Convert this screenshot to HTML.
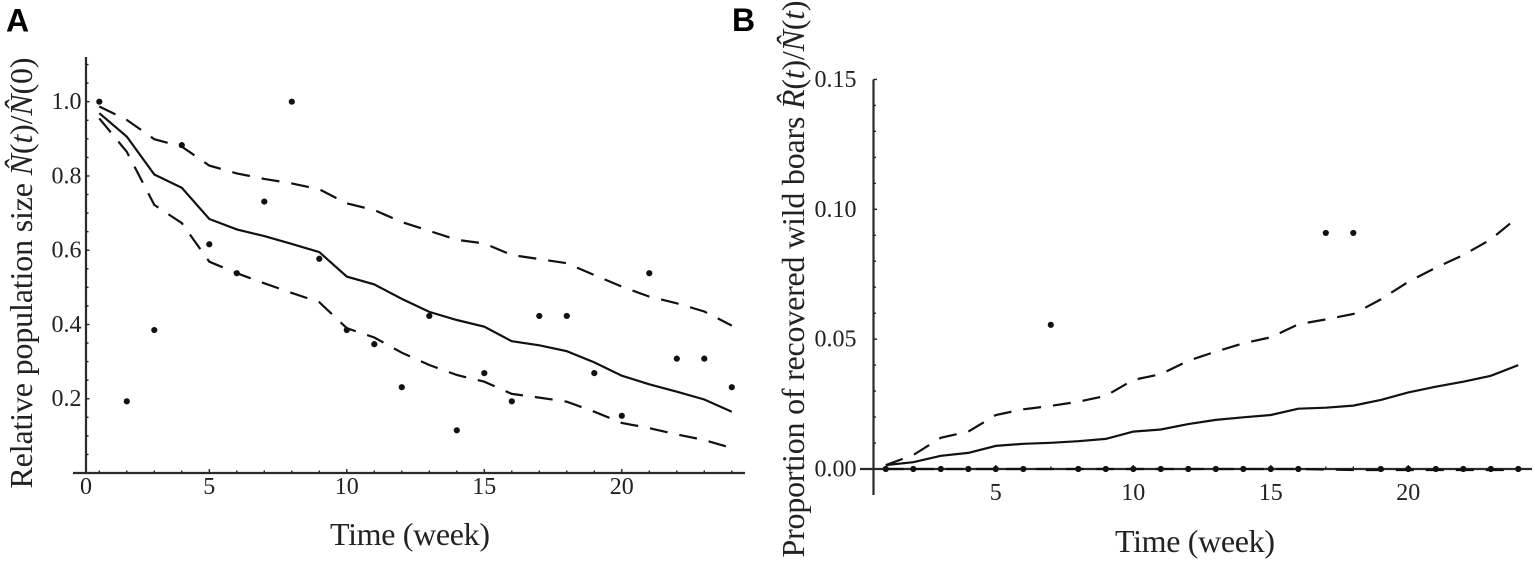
<!DOCTYPE html>
<html lang="en">
<head>
<meta charset="utf-8">
<title>Relative population and recovered wild boars</title>
<style>
html,body{margin:0;padding:0;background:#fff;width:1535px;height:562px;overflow:hidden}
svg{display:block}
text{font-family:"Liberation Serif",serif;fill:#222}
.panel{font-family:"Liberation Sans",sans-serif;font-weight:bold;font-size:32px;fill:#000}
.tick{font-size:24px}
.title{font-size:32px}
</style>
</head>
<body>
<svg id="chart" xmlns="http://www.w3.org/2000/svg" width="1535" height="562" viewBox="0 0 1535 562">
  <text class="panel" x="6" y="31.5">A</text>
  <text class="panel" x="732" y="31">B</text>
  <text class="title" transform="translate(32,273) rotate(-90)" text-anchor="middle" textLength="431">Relative population size <tspan font-style="italic">N̂</tspan>(<tspan font-style="italic">t</tspan>)/<tspan font-style="italic">N̂</tspan>(0)</text>
  <text class="title" x="410" y="545" text-anchor="middle" textLength="160">Time (week)</text>
  <text class="title" transform="translate(804,279) rotate(-90)" text-anchor="middle" textLength="557">Proportion of recovered wild boars <tspan font-style="italic">R̂</tspan>(<tspan font-style="italic">t</tspan>)/<tspan font-style="italic">N̂</tspan>(<tspan font-style="italic">t</tspan>)</text>
  <text class="title" x="1195" y="552" text-anchor="middle" textLength="160">Time (week)</text>
</svg>
<script>
var weeks = [1,2,3,4,5,6,7,8,9,10,11,12,13,14,15,16,17,18,19,20,21,22,23,24];

var xTickValues = [5,10,15,20];
var xTickLabels = ['5','10','15','20'];

var aOriginLabel = '0';
var aYTickValues = [0.2,0.4,0.6,0.8,1.0];
var aYTickLabels = ['0.2','0.4','0.6','0.8','1.0'];
var aObserved = [1.0,0.193,0.385,0.883,0.616,0.538,0.731,1.0,0.577,0.385,0.347,0.231,0.423,0.115,0.269,0.193,0.423,0.423,0.269,0.154,0.538,0.308,0.308,0.231];
var aMean = [0.969,0.906,0.804,0.768,0.684,0.656,0.638,0.617,0.595,0.529,0.508,0.469,0.434,0.412,0.394,0.355,0.344,0.328,0.298,0.262,0.239,0.219,0.198,0.165];
var aUpper = [0.987,0.951,0.899,0.879,0.828,0.807,0.792,0.78,0.764,0.726,0.708,0.676,0.652,0.628,0.618,0.587,0.576,0.565,0.533,0.502,0.475,0.457,0.435,0.397];
var aLower = [0.955,0.865,0.722,0.673,0.569,0.538,0.511,0.485,0.46,0.39,0.365,0.324,0.291,0.264,0.246,0.213,0.203,0.192,0.165,0.135,0.121,0.104,0.089,0.067];

var bYTickValues = [0,0.05,0.10,0.15];
var bYTickLabels = ['0.00','0.05','0.10','0.15'];
var bObserved = [0,0,0,0,0,0,0.0555,0,0,0,0,0,0,0,0,0,0.0909,0.0909,0,0,0,0,0,0];
var bMean = [0.0015,0.0026,0.0051,0.0062,0.0089,0.0097,0.0101,0.0107,0.0116,0.0144,0.0152,0.0173,0.0189,0.0199,0.0208,0.0232,0.0236,0.0244,0.0266,0.0295,0.0317,0.0336,0.0359,0.04];
var bUpper = [0.0015,0.0054,0.012,0.0144,0.0208,0.023,0.0243,0.0259,0.0282,0.0343,0.0365,0.0417,0.0452,0.0484,0.0507,0.0557,0.0576,0.0597,0.0653,0.0721,0.0775,0.0824,0.0884,0.0971];
var bLower = [0,0,0,0,0,0,0,0,0,0,0,0,0,0,0,0,-0.0002,-0.0004,-0.0004,-0.0004,-0.0004,-0.0004,-0.0004,-0.0004];

var svg = document.getElementById('chart');
var NS = 'http://www.w3.org/2000/svg';
var INK = '#222';

function node(tag, attrs) {
  var el = document.createElementNS(NS, tag);
  for (var k in attrs) el.setAttribute(k, attrs[k]);
  svg.appendChild(el);
  return el;
}

/* Panel A axis functions */
function xA(t) { return 71.8 + 27.5 * t; }
function yA(v) { return 473 - 371.3 * v; }
/* Panel B axis functions */
function xB(t) { return 858.3 + 27.5 * t; }
function yB(v) { return 469 - 2597 * v; }

function linePath(xf, yf, values) {
  return values.map(function (v, i) {
    return (i ? 'L' : 'M') + xf(weeks[i]).toFixed(1) + ' ' + yf(v).toFixed(1);
  }).join(' ');
}

function drawSeries(prefix, xf, yf, mean, upper, lower, observed) {
  var m = node('path', {d: linePath(xf, yf, mean), fill: 'none', stroke: '#111', 'stroke-width': 2.2});
  
  
  var u = node('path', {d: linePath(xf, yf, upper), fill: 'none', stroke: '#111', 'stroke-width': 2.2, 'stroke-dasharray': '18 12'});
  
  
  var l = node('path', {d: linePath(xf, yf, lower), fill: 'none', stroke: '#111', 'stroke-width': 2.2, 'stroke-dasharray': '18 12'});
  
  
  observed.forEach(function (v, i) {
    var c = node('circle', {cx: xf(weeks[i]), cy: yf(v), r: 3.1, fill: '#111'});
    
    
  });
}

function tickMark(prefix, x1, y1, x2, y2) {
  var t = node('line', {x1: x1, y1: y1, x2: x2, y2: y2, stroke: INK, 'stroke-width': 1.4});
  
  
}

function tickText(name, str, x, y, anchor) {
  var t = node('text', {x: x, y: y, 'text-anchor': anchor, 'class': 'tick'});
  t.textContent = str;
  
  
}

function axisLine(name, x1, y1, x2, y2) {
  var a = node('line', {x1: x1, y1: y1, x2: x2, y2: y2, stroke: '#2a2a2a', 'stroke-width': 2.2});
  
  
}

/* ---------- Panel A ---------- */
var axA = 86, ayA = yA(0);
axisLine('panel-a-y-axis', axA, 57, axA, ayA);
axisLine('panel-a-x-axis', 73, ayA, 745, ayA);
for (var i = 1; i <= 22; i++) {
  var vA = i * 0.05;
  tickMark('panel-a-y', axA, yA(vA), axA + (i % 4 === 0 ? 3.5 : 2.5), yA(vA));
}
weeks.forEach(function (t) {
  tickMark('panel-a-x', xA(t), ayA, xA(t), ayA - (t % 5 === 0 ? 4 : 2.5));
});
aYTickValues.forEach(function (v, i) {
  tickText('panel-a-y-tick-label', aYTickLabels[i], 81.5, yA(v) + 7.5, 'end');
});
tickText('panel-a-x-tick-label', aOriginLabel, axA, 494, 'middle');
xTickValues.forEach(function (t, i) {
  tickText('panel-a-x-tick-label', xTickLabels[i], xA(t), 494, 'middle');
});
drawSeries('panel-a', xA, yA, aMean, aUpper, aLower, aObserved);

/* ---------- Panel B ---------- */
var axB = 873.5, ayB = yB(0);
axisLine('panel-b-y-axis', axB, yB(0.15), axB, 495);
axisLine('panel-b-x-axis', 860, ayB, 1532, ayB);
for (var j = 1; j <= 15; j++) {
  var vB = j * 0.01;
  tickMark('panel-b-y', axB, yB(vB), axB + (j % 5 === 0 ? 3.5 : 2.5), yB(vB));
}
weeks.forEach(function (t) {
  tickMark('panel-b-x', xB(t), ayB, xB(t), ayB - (t % 5 === 0 ? 4 : 2.5));
});
bYTickValues.forEach(function (v, i) {
  tickText('panel-b-y-tick-label', bYTickLabels[i], 856.5, yB(v) + 7.5, 'end');
});
xTickValues.forEach(function (t, i) {
  tickText('panel-b-x-tick-label', xTickLabels[i], xB(t), 500, 'middle');
});
drawSeries('panel-b', xB, yB, bMean, bUpper, bLower, bObserved);
</script>
</body>
</html>
